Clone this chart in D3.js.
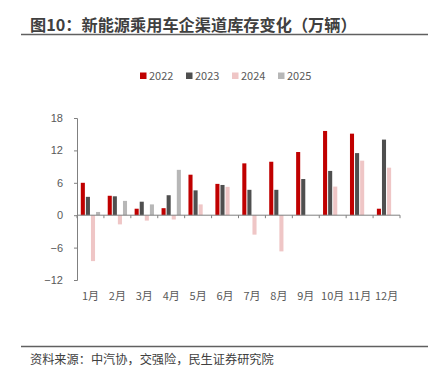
<!DOCTYPE html>
<html>
<head>
<meta charset="UTF-8">
<title></title>
<style>
    body { margin: 0; background: #fff; }
    svg { font-family: "Noto Sans CJK SC", sans-serif; }
    .axis path, .axis line { stroke: #808080; }
    .axis text { fill: #595959; font-size: 11px; }
</style>
</head>
<body>
<svg id="chart" width="433" height="376"></svg>
<script src="https://cdn.jsdelivr.net/npm/d3@7"></script>
<script>
    // 数据（万辆）
    let months = ['1月','2月','3月','4月','5月','6月','7月','8月','9月','10月','11月','12月'];
    let years = ['2022','2023','2024','2025'];
    let v2022 = [6.0, 3.6, 1.2, 1.3, 7.5, 5.8, 9.6, 9.9, 11.7, 15.6, 15.1, 1.2];
    let v2023 = [3.4, 3.5, 2.5, 3.7, 4.6, 5.6, 4.7, 4.7, 6.7, 8.2, 11.5, 14.0];
    let v2024 = [-8.5, -1.7, -1.0, -0.8, 2.0, 5.25, -3.6, -6.7, null, 5.3, 10.1, 8.8];
    let v2025 = [0.6, 2.65, 2.0, 8.4, null, null, null, null, null, null, null, null];
    let yTicks = [-12, -6, 0, 6, 12, 18];
    let colors = ['#c00000', '#4f4f4f', '#efc6c6', '#b7b7b7'];

    let series = [v2022, v2023, v2024, v2025];
    let margin = {top: 118, left: 77, right: 33, bottom: 96};
    let width = 433 - margin.left - margin.right;
    let height = 376 - margin.top - margin.bottom;

    let svg = d3.select('#chart');

    // 标题
    svg.append('text')
        .attr('x', 30).attr('y', 30.5)
        .attr('font-size', 16.2).attr('font-weight', 'bold')
        .attr('fill', '#404040')
        .text('图10：新能源乘用车企渠道库存变化（万辆）');
    svg.append('line')
        .attr('x1', 21).attr('x2', 428).attr('y1', 34.5).attr('y2', 34.5)
        .attr('stroke', '#606060').attr('stroke-width', 1.6);

    // 来源
    svg.append('line')
        .attr('x1', 21).attr('x2', 428).attr('y1', 346.5).attr('y2', 346.5)
        .attr('stroke', '#606060').attr('stroke-width', 1.6);
    svg.append('text')
        .attr('x', 30).attr('y', 364)
        .attr('font-size', 12.2).attr('fill', '#404040')
        .text('资料来源：中汽协，交强险，民生证券研究院');

    let canvas = svg.append('g')
        .attr('transform', 'translate(' + margin.left + ',' + margin.top + ')');

    let x0 = d3.scaleBand().domain(months).range([0, width]);
    let x1 = d3.scaleBand().domain(years)
        .range([3.8, x0.bandwidth() - 3.8]).paddingInner(0.2);
    let y = d3.scaleLinear().domain([-12, 18]).range([height, 0]);

    canvas.append('g')
        .attr('class', 'axis')
        .call(d3.axisLeft(y).tickValues(yTicks).tickSize(3).tickPadding(11));

    let groups = canvas.selectAll('.grp')
        .data(months)
        .enter().append('g')
        .attr('transform', d => 'translate(' + x0(d) + ',0)');

    groups.selectAll('rect')
        .data((m, i) => series.map((s, k) => ({year: years[k], v: s[i], k: k})).filter(d => d.v !== null))
        .enter().append('rect')
        .attr('x', d => x1(d.year))
        .attr('width', x1.bandwidth())
        .attr('y', d => y(Math.max(0, d.v)))
        .attr('height', d => Math.abs(y(d.v) - y(0)))
        .attr('fill', d => colors[d.k]);

    // 零线 + 月份
    let xAxis = canvas.append('g')
        .attr('class', 'axis')
        .attr('transform', 'translate(0,' + y(0) + ')');
    xAxis.append('line')
        .attr('x1', 0).attr('x2', width)
        .attr('stroke', '#808080');
    xAxis.selectAll('.tk')
        .data(d3.range(months.length + 1))
        .enter().append('line')
        .attr('x1', i => i * x0.step()).attr('x2', i => i * x0.step())
        .attr('y1', 0).attr('y2', 3)
        .attr('stroke', '#808080');

    canvas.append('g')
        .attr('class', 'axis')
        .selectAll('text')
        .data(months)
        .enter().append('text')
        .attr('x', d => x0(d) + x0.bandwidth() / 2)
        .attr('y', height + 20)
        .attr('text-anchor', 'middle')
        .text(d => d);

    // 图例
    let legend = svg.append('g').attr('transform', 'translate(140,72.5)');
    let li = legend.selectAll('g')
        .data(years)
        .enter().append('g')
        .attr('transform', (d, i) => 'translate(' + i * 46 + ',0)');
    li.append('rect').attr('width', 6.5).attr('height', 6.5).attr('fill', (d, i) => colors[i]);
    li.append('text').attr('x', 9).attr('y', 7.5)
        .attr('font-size', 11).attr('fill', '#595959').text(d => d);
</script>
</body>
</html>
